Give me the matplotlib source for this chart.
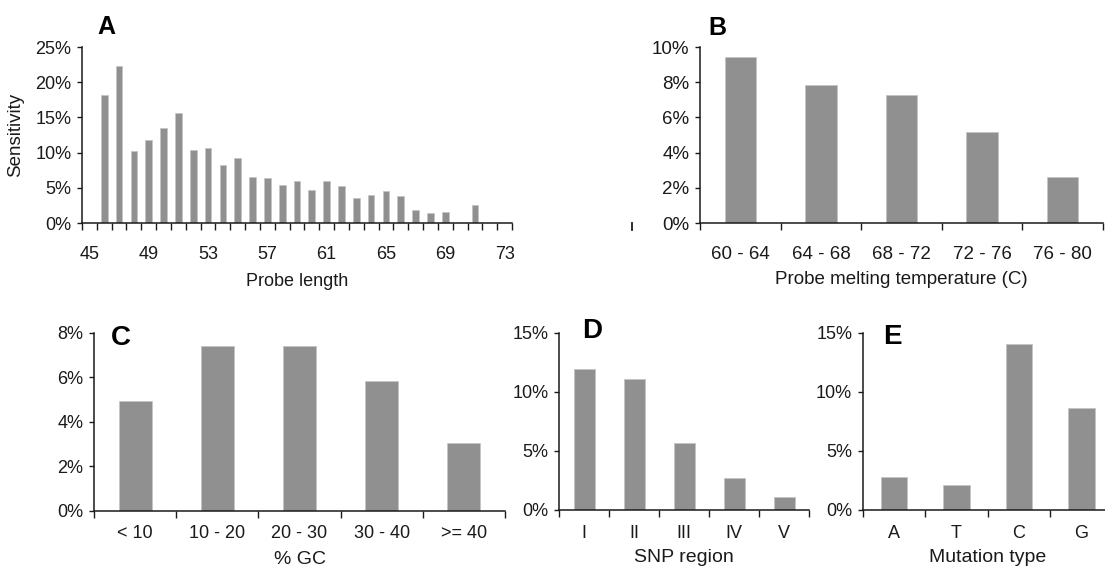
import numpy as np
import matplotlib
matplotlib.use("Agg")
import matplotlib.pyplot as plt
from matplotlib.lines import Line2D

plt.rcParams['font.family'] = ['Liberation Sans', 'DejaVu Sans']

# panel A: sensitivity by probe length (%)
lengths = list(range(45, 74))
sens_length = [0, 18.2, 22.3, 10.2, 11.8, 13.5, 15.6, 10.4, 10.7, 8.3,
               9.2, 6.6, 6.4, 5.4, 5.9, 4.7, 5.9, 5.2, 3.5, 4.0,
               4.5, 3.8, 1.9, 1.4, 1.6, 0, 2.6, 0, 0]
length_labels = [str(v) if (v - 45) % 4 == 0 else '' for v in lengths]

# panel B: probe melting temperature
tm_bins = ['60 - 64', '64 - 68', '68 - 72', '72 - 76', '76 - 80']
sens_tm = [9.43, 7.83, 7.28, 5.19, 2.64]

# panel C: % GC
gc_bins = ['< 10', '10 - 20', '20 - 30', '30 - 40', '>= 40']
sens_gc = [4.91, 7.39, 7.39, 5.81, 3.03]

# panel D: SNP region
regions = ['I', 'II', 'III', 'IV', 'V']
sens_region = [11.9, 11.05, 5.66, 2.68, 1.13]

# panel E: mutation type
mutations = ['A', 'T', 'C', 'G']
sens_mut = [2.78, 2.09, 14.01, 8.64]

W, H = 1105, 568
GRAY = '#909090'
INK = '#1a1a1a'

fig = plt.figure(figsize=(W / 100, H / 100), dpi=100)


def px_rect(left, right, bottom, top):
    return [left / W, 1 - bottom / H, (right - left) / W, (bottom - top) / H]


def panel(rect, cats, vals, yticks, ylim, width, fs, pad, labels=None, xlabel='',
          xfs=None, labelpad=3):
    ax = fig.add_axes(rect)
    x = np.arange(len(cats))
    ax.bar(x, vals, width=width, color=GRAY, edgecolor='#c4c4c4', linewidth=0.6, zorder=2)
    ax.set_xlim(-0.5, len(cats) - 0.5)
    ax.set_ylim(0, ylim)
    ax.set_xticks(np.arange(len(cats) + 1) - 0.5)
    ax.set_xticklabels([])
    ax.set_xticks(x, minor=True)
    ax.set_xticklabels(labels if labels is not None else cats, minor=True, fontsize=fs, color=INK)
    ax.tick_params(axis='x', which='major', length=5, width=1, direction='out', color=INK)
    ax.tick_params(axis='x', which='minor', length=0, pad=pad)
    ax.set_yticks(yticks)
    ax.set_yticklabels(['%d%%' % v for v in yticks], fontsize=fs, color=INK)
    ax.tick_params(axis='y', length=3.6, width=1, pad=4, color=INK)
    for s in ['top', 'right']:
        ax.spines[s].set_visible(False)
    for s in ['left', 'bottom']:
        ax.spines[s].set_linewidth(1.1)
        ax.spines[s].set_color(INK)
    ax.spines['bottom'].set_zorder(3)
    ax.set_xlabel(xlabel, fontsize=xfs or fs, color=INK, labelpad=labelpad)
    return ax


axA = panel(px_rect(82, 512, 223, 47), lengths, sens_length, [0, 5, 10, 15, 20, 25], 25,
            0.45, 13, 16.5, labels=length_labels, xlabel='Probe length', labelpad=7)
axA.set_ylabel('Sensitivity', fontsize=13.5, color=INK)
axA.yaxis.set_label_coords(-0.135, 0.5)

axB = panel(px_rect(700, 1103, 223, 47), tm_bins, sens_tm, [0, 2, 4, 6, 8, 10], 10,
            0.39, 13.5, 16.5, xlabel='Probe melting temperature (C)', labelpad=6)

axC = panel(px_rect(94, 505, 510.7, 332.7), gc_bins, sens_gc, [0, 2, 4, 6, 8], 8,
            0.40, 13, 10.5, xlabel='% GC', xfs=14, labelpad=6.5)

axD = panel(px_rect(559, 809, 510, 332.7), regions, sens_region, [0, 5, 10, 15], 15,
            0.42, 13, 10.5, xlabel='SNP region', xfs=14, labelpad=5.5)

axE = panel(px_rect(862.7, 1112.7, 510, 332.7), mutations, sens_mut, [0, 5, 10, 15], 15,
            0.42, 13, 10.5, xlabel='Mutation type', xfs=14, labelpad=5.5)

# panel letters
for letter, (lx, ly), size in [('A', (97, 34), 18), ('B', (708, 35), 18),
                               ('C', (111, 345), 20), ('D', (582, 338), 20),
                               ('E', (883, 344), 20)]:
    fig.text(lx / W, 1 - ly / H, letter, fontsize=size, fontweight='bold',
             ha='left', va='baseline', color='black')

# small stray tick left of panel B
fig.add_artist(Line2D([632 / W, 632 / W], [1 - 223 / H, 1 - 230 / H], color=INK, lw=1.3))

fig.savefig('out.png', dpi=100)
